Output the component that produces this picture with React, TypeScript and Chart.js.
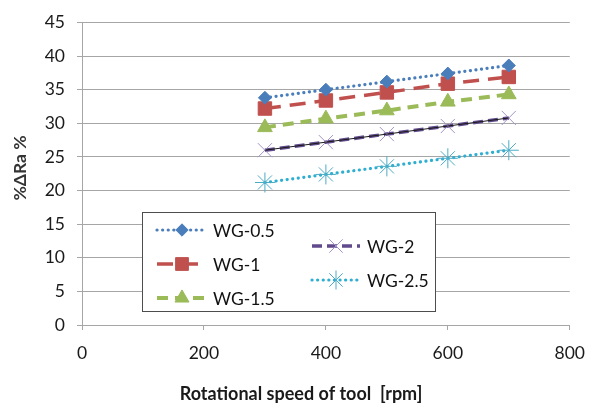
import React, { useEffect, useRef } from 'react';
import { Chart, registerables } from 'chart.js';

Chart.register(...registerables);

// ---- data ----
const speeds = [300, 400, 500, 600, 700];
const wg05 = [33.8, 35.0, 36.2, 37.4, 38.6];
const wg1 = [32.2, 33.4, 34.6, 35.9, 36.9];
const wg15 = [29.4, 30.7, 31.9, 33.2, 34.3];
const wg2 = [26.0, 27.2, 28.4, 29.6, 30.8];
const wg25 = [21.2, 22.4, 23.6, 24.8, 26.0];
const seriesNames = ['WG-0.5', 'WG-1', 'WG-1.5', 'WG-2', 'WG-2.5'];
const xTickValues = [0, 200, 400, 600, 800];
const yTickStep = 5;
const yMaxValue = 45;
const xTitle = 'Rotational speed of tool  [rpm]';
const yTitle = '%ΔRa %';

const FONT = 'Lato, "Open Sans", sans-serif';

type Sty = {
  color: string;
  dash: number[];
  width: number;
  point: string;
  radius: number;
  pFill: string;
  pStroke: string;
  pWidth: number;
};

const styles: Sty[] = [
  { color: '#4a7ebb', dash: [0.1, 5.5], width: 3.2, point: 'rectRot', radius: 6.5, pFill: '#4a7ebb', pStroke: '#4a7ebb', pWidth: 1 },
  { color: '#c0504d', dash: [16, 9], width: 3.5, point: 'rect', radius: 9.5, pFill: '#c0504d', pStroke: '#c0504d', pWidth: 1 },
  { color: '#9bbb59', dash: [11, 7], width: 4, point: 'triangle', radius: 8.5, pFill: '#9bbb59', pStroke: '#9bbb59', pWidth: 1 },
  { color: '#604a8b', dash: [10, 5], width: 3.5, point: 'crossRot', radius: 10, pFill: '#a393c8', pStroke: '#a393c8', pWidth: 1 },
  { color: '#2eaed0', dash: [0.1, 5.5], width: 3.2, point: 'star', radius: 10, pFill: '#4bacc6', pStroke: '#4bacc6', pWidth: 1 },
];

const seriesValues = [wg05, wg1, wg15, wg2, wg25];

function pts(vals: number[]) {
  return speeds.map((s, i) => ({ x: s, y: vals[i] }));
}

function drawMarker(ctx: CanvasRenderingContext2D, st: Sty, x: number, y: number) {
  const r = st.radius;
  ctx.save();
  ctx.setLineDash([]);
  ctx.fillStyle = st.pFill;
  ctx.strokeStyle = st.pStroke;
  ctx.lineWidth = st.pWidth;
  ctx.beginPath();
  if (st.point === 'rectRot') {
    ctx.moveTo(x - r, y);
    ctx.lineTo(x, y - r);
    ctx.lineTo(x + r, y);
    ctx.lineTo(x, y + r);
    ctx.closePath();
    ctx.fill();
    ctx.stroke();
  } else if (st.point === 'rect') {
    const h = r * Math.SQRT1_2;
    ctx.rect(x - h, y - h, 2 * h, 2 * h);
    ctx.fill();
    ctx.stroke();
  } else if (st.point === 'triangle') {
    const edge = (3 * r) / Math.sqrt(3);
    const height = (edge * Math.sqrt(3)) / 2;
    ctx.moveTo(x - edge / 2, y + height / 3);
    ctx.lineTo(x + edge / 2, y + height / 3);
    ctx.lineTo(x, y - (2 * height) / 3);
    ctx.closePath();
    ctx.fill();
    ctx.stroke();
  } else if (st.point === 'crossRot') {
    const o = r * Math.SQRT1_2;
    ctx.moveTo(x - o, y - o);
    ctx.lineTo(x + o, y + o);
    ctx.moveTo(x + o, y - o);
    ctx.lineTo(x - o, y + o);
    ctx.stroke();
  } else if (st.point === 'star') {
    const o = r * Math.SQRT1_2;
    ctx.moveTo(x - o, y - o);
    ctx.lineTo(x + o, y + o);
    ctx.moveTo(x + o, y - o);
    ctx.lineTo(x - o, y + o);
    ctx.moveTo(x, y - r);
    ctx.lineTo(x, y + r);
    ctx.stroke();
  }
  ctx.restore();
}

const overlayPlugin = {
  id: 'overlay',
  afterDraw(chart: any) {
    const ctx: CanvasRenderingContext2D = chart.ctx;
    // axis titles
    ctx.save();
    ctx.fillStyle = '#1a1a1a';
    ctx.font = `bold 18px ${FONT}`;
    ctx.textAlign = 'center';
    ctx.textBaseline = 'middle';
    ctx.fillText(xTitle, 301, 394);
    ctx.font = `bold 17.5px ${FONT}`;
    ctx.translate(20, 168);
    ctx.rotate(-Math.PI / 2);
    ctx.fillStyle = '#333';
    ctx.fillText(yTitle, 0, 0);
    ctx.restore();

    // legend box
    ctx.save();
    ctx.fillStyle = '#ffffff';
    ctx.fillRect(142, 212, 293, 100);
    ctx.strokeStyle = '#4d4d4d';
    ctx.lineWidth = 1;
    ctx.strokeRect(142.5, 212.5, 293, 99);
    const items = [
      { i: 0, x0: 157, x1: 207, y: 230, tx: 213 },
      { i: 1, x0: 157, x1: 207, y: 264, tx: 213 },
      { i: 2, x0: 157, x1: 207, y: 298, tx: 213 },
      { i: 3, x0: 312, x1: 360, y: 246, tx: 367 },
      { i: 4, x0: 312, x1: 360, y: 280, tx: 367 },
    ];
    for (const it of items) {
      const st = styles[it.i];
      ctx.save();
      ctx.strokeStyle = st.color;
      ctx.lineWidth = st.width;
      ctx.lineCap = st.dash[0] < 1 ? 'round' : 'butt';
      ctx.setLineDash(st.dash);
      ctx.beginPath();
      ctx.moveTo(it.x0, it.y);
      ctx.lineTo(it.x1, it.y);
      ctx.stroke();
      ctx.restore();
      drawMarker(ctx, { ...st, radius: st.radius * 0.95 }, (it.x0 + it.x1) / 2, it.y);
      ctx.fillStyle = '#111';
      ctx.font = `17.5px ${FONT}`;
      ctx.textAlign = 'left';
      ctx.textBaseline = 'middle';
      ctx.fillText(seriesNames[it.i], it.tx, it.y + 1);
    }
    ctx.restore();
  },
};

export default function App() {
  const ref = useRef<HTMLCanvasElement | null>(null);

  useEffect(() => {
    document.body.style.margin = '0';
    const canvas = ref.current;
    if (!canvas) return;

    const datasets: any[] = seriesValues.map((vals, i) => {
      const st = styles[i];
      return {
        label: seriesNames[i],
        data: pts(vals),
        showLine: true,
        borderColor: st.color,
        borderWidth: st.width,
        borderDash: st.dash,
        borderCapStyle: st.dash[0] < 1 ? 'round' : 'butt',
        pointStyle: st.point,
        pointRadius: st.radius,
        pointBackgroundColor: st.pFill,
        pointBorderColor: st.pStroke,
        pointBorderWidth: st.pWidth,
        order: 2,
      };
    });
    // thin dark trend line through WG-2
    datasets.splice(3, 0, {
      label: 'WG-2 trend',
      data: pts(wg2),
      showLine: true,
      borderColor: '#1a1a1a',
      borderWidth: 1,
      pointRadius: 0,
      order: 1,
    });

    const grid = '#a6a6a6';
    const chart = new Chart(canvas, {
      type: 'scatter',
      data: { datasets },
      options: {
        responsive: false,
        animation: false,
        devicePixelRatio: 1,
        layout: { padding: { left: 0, top: 15, right: 28, bottom: 0 } },
        plugins: {
          legend: { display: false },
          tooltip: { enabled: false },
        },
        scales: {
          x: {
            type: 'linear',
            min: xTickValues[0],
            max: xTickValues[xTickValues.length - 1],
            afterFit: (s: any) => {
              s.height = 83;
            },
            afterBuildTicks: (s: any) => {
              s.ticks = xTickValues.map((v) => ({ value: v }));
            },
            grid: { drawOnChartArea: false, drawTicks: true, tickLength: 5, color: grid },
            border: { color: grid, width: 1 },
            ticks: { font: { family: FONT, size: 17.5 }, color: '#1a1a1a', padding: 13, maxRotation: 0 },
          },
          y: {
            type: 'linear',
            min: 0,
            max: yMaxValue,
            afterFit: (s: any) => {
              s.width = 82;
            },
            grid: { color: grid, drawTicks: true, tickLength: 5 },
            border: { color: grid, width: 1 },
            ticks: { stepSize: yTickStep, font: { family: FONT, size: 17.5 }, color: '#1a1a1a', padding: 12 },
          },
        },
      },
      plugins: [overlayPlugin],
    });
    return () => chart.destroy();
  }, []);

  return (
    <div style={{ width: 598, height: 408, position: 'relative', background: '#fff' }}>
      <canvas ref={ref} width={598} height={408} style={{ width: 598, height: 408, display: 'block' }} />
    </div>
  );
}
